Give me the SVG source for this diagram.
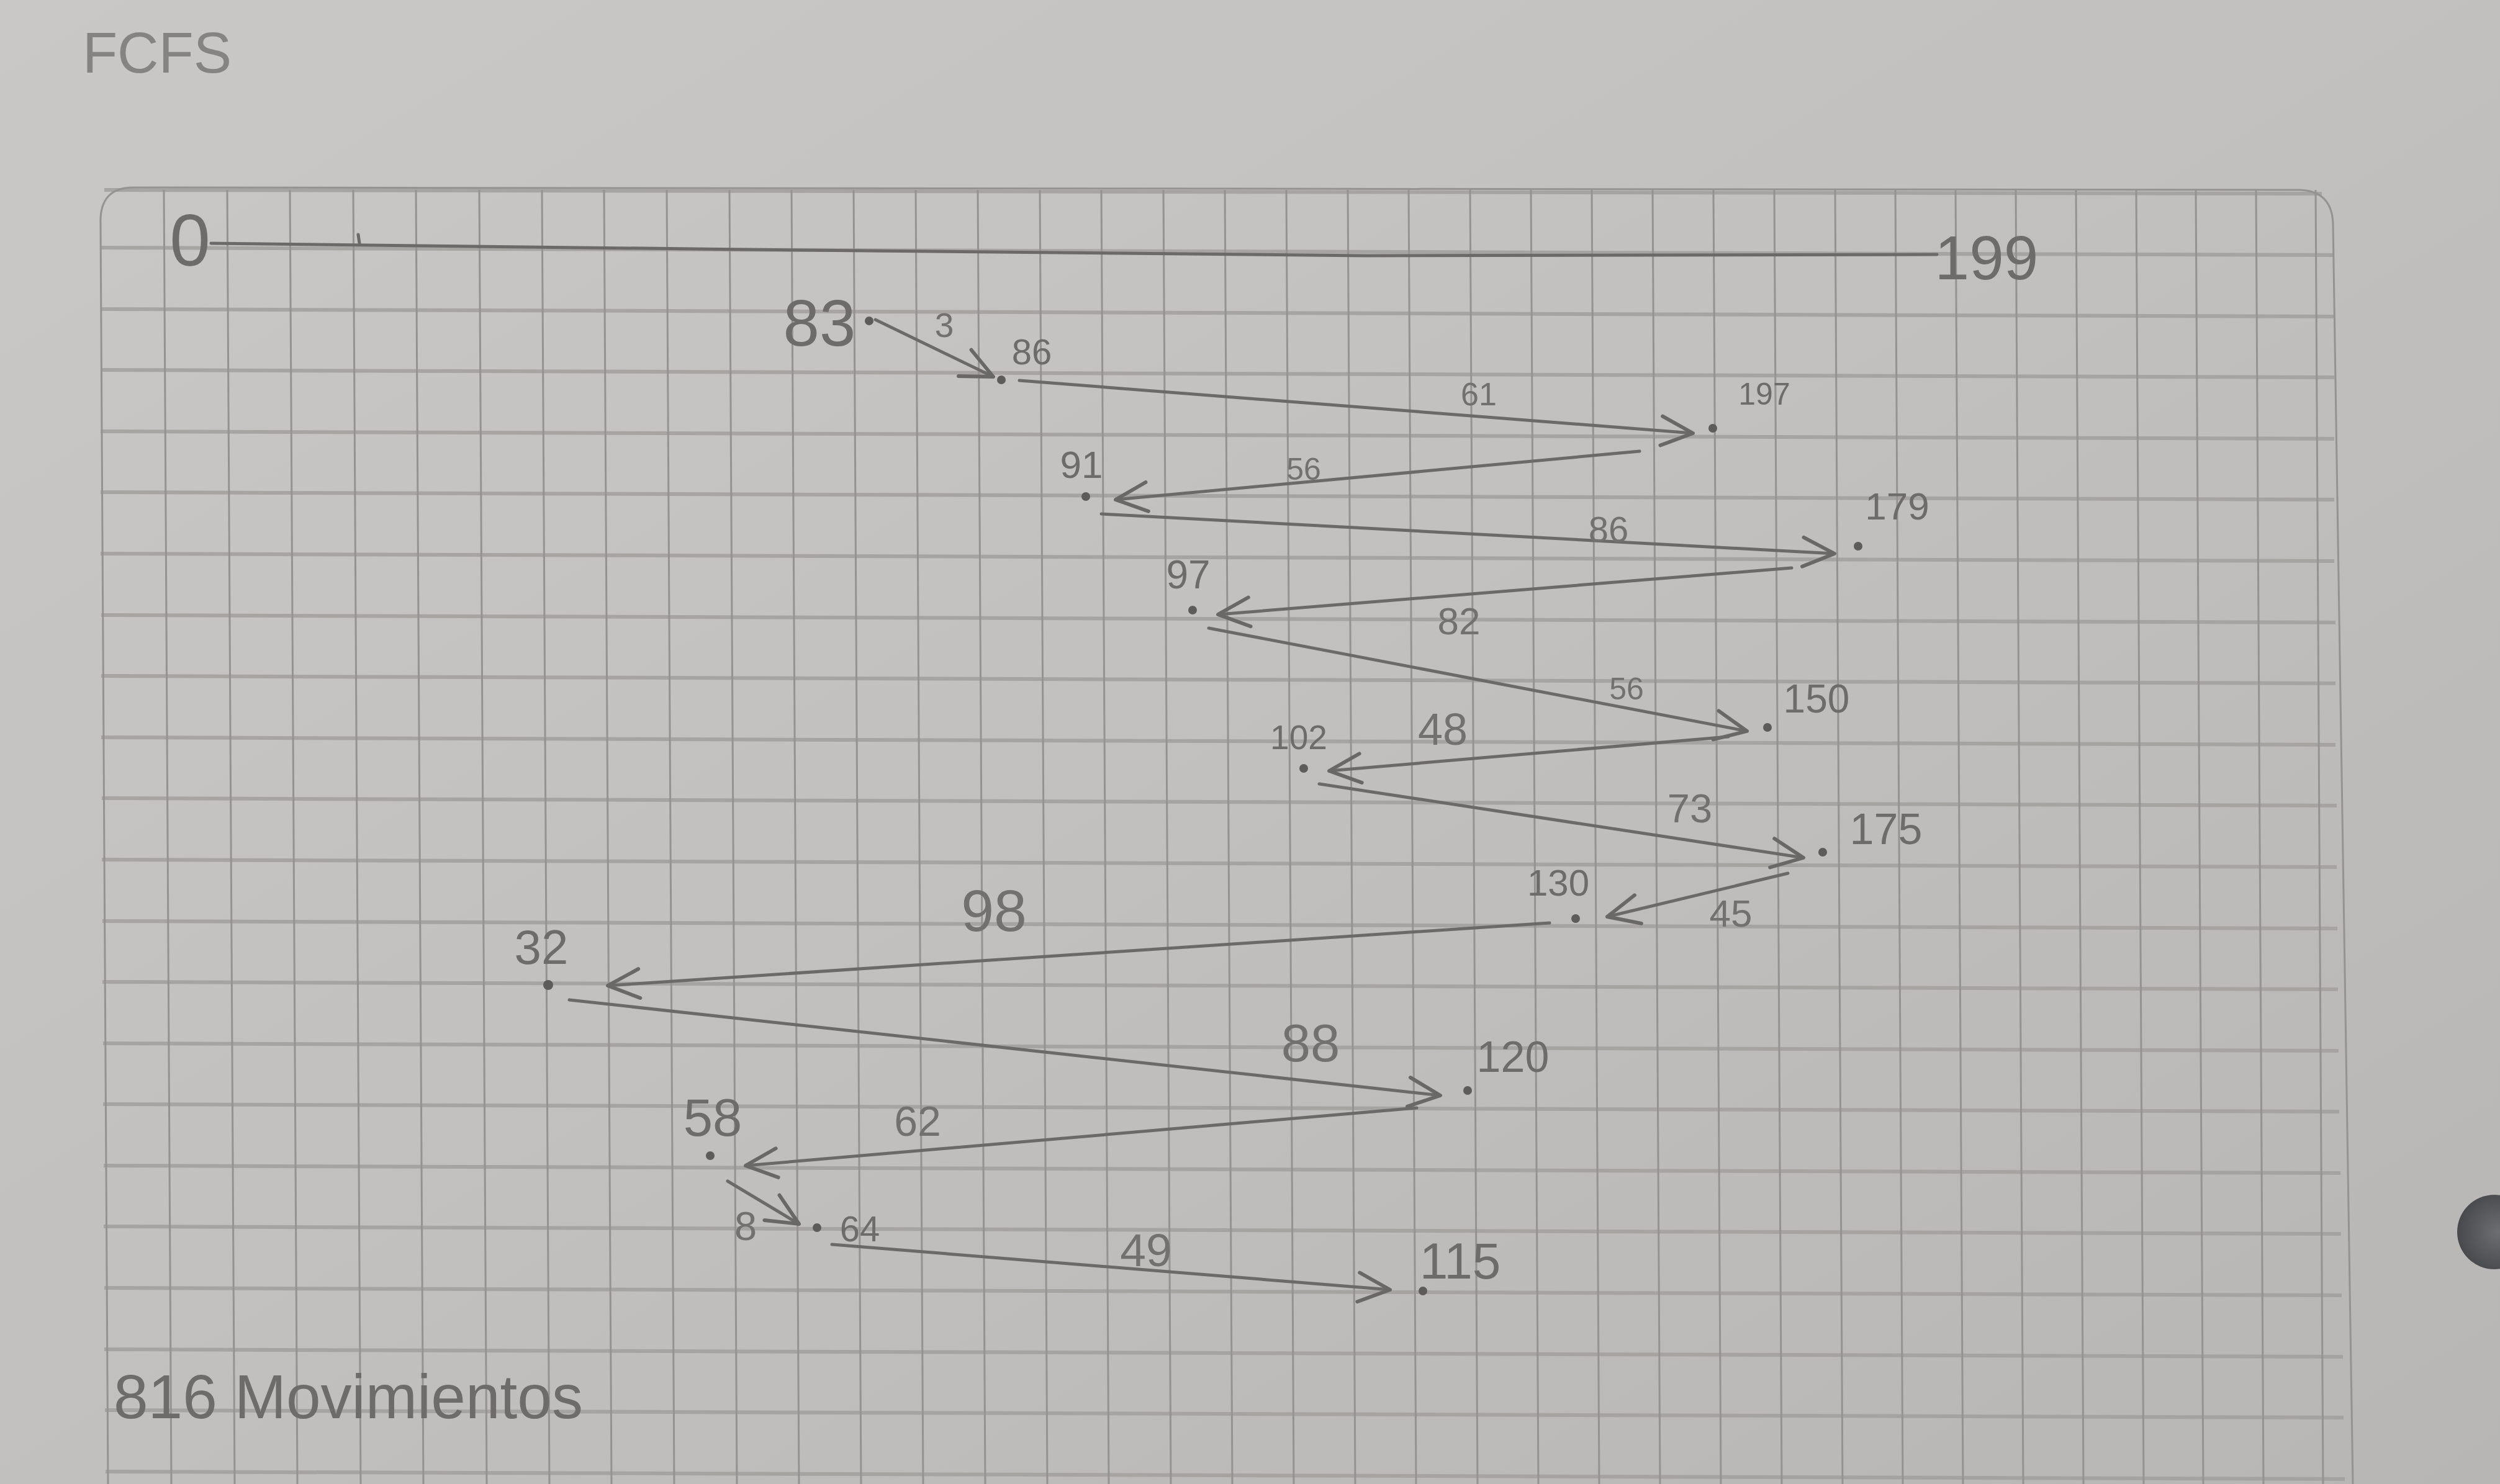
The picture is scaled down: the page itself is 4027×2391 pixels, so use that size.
<svg xmlns="http://www.w3.org/2000/svg" width="4027" height="2391" viewBox="0 0 4027 2391">
<defs>
<linearGradient id="paper" x1="0" y1="0" x2="1" y2="1">
<stop offset="0" stop-color="#cac8c6"/>
<stop offset="0.5" stop-color="#c2c0be"/>
<stop offset="1" stop-color="#b8b6b4"/>
</linearGradient>
<radialGradient id="hole" cx="0.55" cy="0.5" r="0.6">
<stop offset="0" stop-color="#6c6e72"/>
<stop offset="1" stop-color="#45464a"/>
</radialGradient>
<marker id="arr" markerUnits="userSpaceOnUse" markerWidth="60" markerHeight="60" viewBox="0 0 46 44" refX="42" refY="22" orient="auto">
<path d="M3,4 L42,22 L3,40" fill="none" stroke="#6a6867" stroke-width="4.5" stroke-linecap="round" stroke-linejoin="round"/>
</marker>
<style>
.gv{stroke:#959391;stroke-width:3;fill:none}
.gh{stroke:#a3a19f;stroke-width:6;fill:none;opacity:0.9}
.pen{stroke:#6c6a69;stroke-width:5;fill:none;stroke-linecap:round}
.con{stroke:#6c6a69;stroke-width:5;fill:none;stroke-linecap:round;marker-end:url(#arr)}
.dot{fill:#5e5c5b}
.t{font-family:"Liberation Sans",Arial,sans-serif;fill:#6e6c6a;text-anchor:middle}
.d{font-family:"Liberation Sans",Arial,sans-serif;fill:#737170;text-anchor:middle}
</style>
</defs>
<rect width="4027" height="2391" fill="url(#paper)"/>
<g id="grid">
<path class="gh" d="M168,306 L3740,312 M162,399 L3760,411 M162,498 L3760,510 M162,596 L3760,608 M162,695 L3760,707 M162,793 L3760,805 M162,892 L3760,904 M163,991 L3762,1003 M163,1089 L3762,1101 M163,1188 L3762,1200 M164,1286 L3764,1298 M164,1385 L3764,1397 M165,1484 L3765,1496 M165,1582 L3766,1594 M166,1681 L3767,1693 M166,1779 L3768,1791 M167,1878 L3770,1890 M167,1976 L3771,1988 M168,2075 L3772,2087 M168,2174 L3774,2186 M169,2272 L3775,2284 M170,2371 L3777,2383"/>
<path class="gv" d="M264,306 L276,2391 M366,306 L378,2391 M467,306 L479,2391 M569,306 L581,2391 M670,306 L682,2391 M772,306 L784,2391 M873,306 L885,2391 M973,306 L985,2391 M1074,306 L1086,2391 M1175,306 L1187,2391 M1275,306 L1287,2391 M1375,306 L1387,2391 M1475,306 L1487,2391 M1575,306 L1587,2391 M1675,306 L1687,2391 M1774,306 L1786,2391 M1874,306 L1886,2391 M1973,306 L1985,2391 M2072,306 L2084,2391 M2171,306 L2183,2391 M2269,306 L2281,2391 M2368,306 L2380,2391 M2466,306 L2478,2391 M2564,306 L2576,2391 M2662,306 L2674,2391 M2760,306 L2772,2391 M2858,306 L2870,2391 M2956,306 L2968,2391 M3053,306 L3065,2391 M3150,306 L3162,2391 M3247,306 L3259,2391 M3344,306 L3356,2391 M3441,306 L3453,2391 M3537,306 L3549,2391 M3634,306 L3646,2391 M3730,306 L3742,2391"/>
<path class="gv" stroke-width="4" d="M174,2391 L162,360 Q160,302 215,302 L3705,306 Q3756,308 3758,360 L3790,2391"/>
</g>
<g id="hole-punch">
<circle cx="4018" cy="1985" r="60" fill="url(#hole)"/>
</g>
<g id="title">
<text class="t" x="253" y="117" font-size="92" style="fill:#868482">FCFS</text>
</g>
<g id="axis">
<path class="pen" d="M340,392 L1200,402 L2200,412 L3120,410"/>
<path class="pen" stroke-width="4" d="M577,378 L579,392"/>
<text class="t" x="306" y="428" font-size="118">0</text>
<text class="t" x="3200" y="450" font-size="100">199</text>
</g>
<g id="connectors">
<line class="con" x1="1410" y1="515" x2="1600" y2="607"/>
<line class="con" x1="1642" y1="613" x2="2727" y2="698"/>
<line class="con" x1="2641" y1="727" x2="1797" y2="805"/>
<line class="con" x1="1774" y1="828" x2="2955" y2="892"/>
<line class="con" x1="2886" y1="915" x2="1962" y2="990"/>
<line class="con" x1="1947" y1="1012" x2="2814" y2="1178"/>
<line class="con" x1="2784" y1="1187" x2="2141" y2="1242"/>
<line class="con" x1="2125" y1="1263" x2="2905" y2="1382"/>
<line class="con" x1="2880" y1="1407" x2="2589" y2="1477"/>
<line class="con" x1="2496" y1="1487" x2="979" y2="1588"/>
<line class="con" x1="917" y1="1611" x2="2320" y2="1765"/>
<line class="con" x1="2282" y1="1785" x2="1201" y2="1878"/>
<line class="con" x1="1172" y1="1903" x2="1287" y2="1972"/>
<line class="con" x1="1340" y1="2005" x2="2239" y2="2078"/>
</g>
<g id="distances">
<text class="d" x="1521" y="543" font-size="55">3</text>
<text class="d" x="2382" y="653" font-size="52">61</text>
<text class="d" x="2100" y="773" font-size="50">56</text>
<text class="d" x="2591" y="873" font-size="58">86</text>
<text class="d" x="2350" y="1022" font-size="62">82</text>
<text class="d" x="2620" y="1127" font-size="50">56</text>
<text class="d" x="2324" y="1200" font-size="72">48</text>
<text class="d" x="2722" y="1325" font-size="65">73</text>
<text class="d" x="2788" y="1493" font-size="62">45</text>
<text class="d" x="1601" y="1500" font-size="95">98</text>
<text class="d" x="2111" y="1710" font-size="85">88</text>
<text class="d" x="1478" y="1830" font-size="68">62</text>
<text class="d" x="1201" y="1998" font-size="65">8</text>
<text class="d" x="1846" y="2040" font-size="75">49</text>
</g>
<g id="n83"><circle class="dot" cx="1400" cy="517" r="7"/><text class="t" x="1320" y="557" font-size="105">83</text></g>
<g id="n86"><circle class="dot" cx="1613" cy="612" r="7"/><text class="t" x="1662" y="587" font-size="58">86</text></g>
<g id="n197"><circle class="dot" cx="2759" cy="690" r="7"/><text class="t" x="2842" y="652" font-size="50">197</text></g>
<g id="n91"><circle class="dot" cx="1749" cy="800" r="7"/><text class="t" x="1742" y="770" font-size="62">91</text></g>
<g id="n179"><circle class="dot" cx="2993" cy="880" r="7"/><text class="t" x="3056" y="837" font-size="62">179</text></g>
<g id="n97"><circle class="dot" cx="1921" cy="983" r="7"/><text class="t" x="1914" y="948" font-size="64">97</text></g>
<g id="n150"><circle class="dot" cx="2847" cy="1172" r="7"/><text class="t" x="2926" y="1148" font-size="64">150</text></g>
<g id="n102"><circle class="dot" cx="2100" cy="1238" r="7"/><text class="t" x="2092" y="1207" font-size="55">102</text></g>
<g id="n175"><circle class="dot" cx="2936" cy="1373" r="7"/><text class="t" x="3038" y="1360" font-size="70">175</text></g>
<g id="n130"><circle class="dot" cx="2538" cy="1480" r="7"/><text class="t" x="2510" y="1443" font-size="60">130</text></g>
<g id="n32"><circle class="dot" cx="883" cy="1587" r="8"/><text class="t" x="872" y="1553" font-size="78">32</text></g>
<g id="n120"><circle class="dot" cx="2364" cy="1757" r="7"/><text class="t" x="2437" y="1727" font-size="70">120</text></g>
<g id="n58"><circle class="dot" cx="1144" cy="1862" r="7"/><text class="t" x="1148" y="1830" font-size="85">58</text></g>
<g id="n64"><circle class="dot" cx="1316" cy="1978" r="7"/><text class="t" x="1385" y="2000" font-size="58">64</text></g>
<g id="n115"><circle class="dot" cx="2292" cy="2080" r="7"/><text class="t" x="2352" y="2060" font-size="82">115</text></g>
<g id="total">
<text class="t" x="183" y="2285" font-size="100" style="text-anchor:start">816 Movimientos</text>
</g>
</svg>
